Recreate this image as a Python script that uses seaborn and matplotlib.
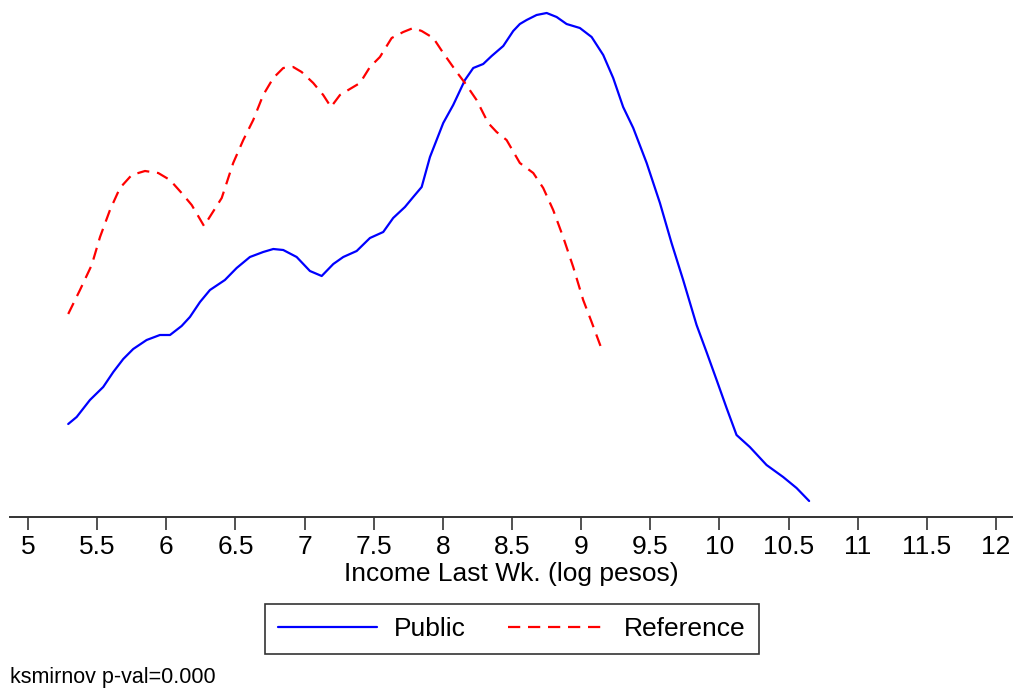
import numpy as np
import pandas as pd
import seaborn as sns
import matplotlib
matplotlib.use("Agg")
import matplotlib.pyplot as plt
from matplotlib.lines import Line2D

public_x = [5.291, 5.352, 5.448, 5.544, 5.617, 5.689, 5.761, 5.858, 5.954, 6.027,
            6.111, 6.171, 6.244, 6.316, 6.424, 6.509, 6.605, 6.701, 6.774, 6.846,
            6.943, 7.039, 7.124, 7.208, 7.280, 7.377, 7.473, 7.569, 7.641, 7.726,
            7.786, 7.847, 7.907, 8.003, 8.075, 8.160, 8.220, 8.292, 8.353, 8.437,
            8.509, 8.557, 8.606, 8.678, 8.751, 8.823, 8.895, 8.991, 9.076, 9.160,
            9.232, 9.304, 9.377, 9.474, 9.570, 9.654, 9.738, 9.835, 9.907, 9.980,
            10.052, 10.124, 10.220, 10.341, 10.461, 10.558, 10.649]
public_y = [0.093, 0.100, 0.117, 0.130, 0.145, 0.158, 0.168, 0.177, 0.182, 0.182,
            0.191, 0.200, 0.215, 0.227, 0.237, 0.249, 0.260, 0.265, 0.268, 0.267,
            0.260, 0.246, 0.241, 0.253, 0.260, 0.266, 0.279, 0.285, 0.299, 0.310,
            0.320, 0.330, 0.360, 0.394, 0.412, 0.437, 0.449, 0.453, 0.461, 0.471,
            0.486, 0.493, 0.497, 0.502, 0.504, 0.500, 0.493, 0.489, 0.480, 0.462,
            0.439, 0.410, 0.389, 0.354, 0.314, 0.274, 0.237, 0.192, 0.165, 0.137,
            0.109, 0.082, 0.070, 0.052, 0.040, 0.029, 0.016]

reference_x = [5.291, 5.376, 5.461, 5.521, 5.593, 5.665, 5.750, 5.846, 5.942, 6.027,
               6.111, 6.184, 6.273, 6.401, 6.484, 6.557, 6.629, 6.701, 6.774, 6.846,
               6.918, 6.979, 7.063, 7.135, 7.191, 7.256, 7.328, 7.401, 7.473, 7.545,
               7.630, 7.714, 7.786, 7.847, 7.931, 8.003, 8.100, 8.160, 8.244, 8.328,
               8.389, 8.461, 8.557, 8.654, 8.726, 8.798, 8.870, 8.943, 9.015, 9.076,
               9.143]
reference_y = [0.203, 0.227, 0.252, 0.280, 0.307, 0.329, 0.342, 0.346, 0.344, 0.337,
               0.324, 0.312, 0.291, 0.319, 0.354, 0.377, 0.397, 0.422, 0.439, 0.449,
               0.450, 0.445, 0.434, 0.422, 0.410, 0.422, 0.428, 0.434, 0.450, 0.460,
               0.479, 0.485, 0.489, 0.486, 0.479, 0.464, 0.445, 0.434, 0.417, 0.394,
               0.385, 0.377, 0.354, 0.344, 0.329, 0.307, 0.280, 0.250, 0.217, 0.195,
               0.170]

tick_values = [5, 5.5, 6, 6.5, 7, 7.5, 8, 8.5, 9, 9.5, 10, 10.5, 11, 11.5, 12]
tick_labels = ["5", "5.5", "6", "6.5", "7", "7.5", "8", "8.5", "9", "9.5",
               "10", "10.5", "11", "11.5", "12"]
series_names = ["Public", "Reference"]

sns.set_style("white")
plt.rcParams['font.family'] = ['Liberation Sans', 'DejaVu Sans']
plt.rcParams['text.color'] = 'black'
plt.rcParams['axes.labelcolor'] = 'black'
plt.rcParams['xtick.color'] = 'black'

fig = plt.figure(figsize=(10.16, 6.89), dpi=100)
ax = fig.add_axes([10/1016, 172/689, 1002/1016, 517/689])

df_pub = pd.DataFrame({"x": public_x, "y": public_y})
df_ref = pd.DataFrame({"x": reference_x, "y": reference_y})

sns.lineplot(data=df_pub, x="x", y="y", ax=ax, color="#0000ff", lw=1.6,
             sort=False, estimator=None)
sns.lineplot(data=df_ref, x="x", y="y", ax=ax, color="#ff0000", lw=1.6,
             sort=False, estimator=None)
ax.lines[1].set_dashes((5.5, 3.5))

ax.set_xlim(4.87, 12.116)
ax.set_ylim(0, 0.517)
ax.set_xticks(tick_values)
ax.set_xticklabels(tick_labels, fontsize=19)
ax.set_yticks([])
ax.set_xlabel("Income Last Wk. (log pesos)", fontsize=19, labelpad=2)
ax.set_ylabel("")
for s in ["top", "right", "left"]:
    ax.spines[s].set_visible(False)
ax.spines["bottom"].set_color("#333333")
ax.spines["bottom"].set_linewidth(1.4)
ax.tick_params(axis="x", direction="out", length=9, width=1.2, color="#333333",
               labelcolor="black", pad=4, bottom=True)

handles = [Line2D([], [], color="#0000ff", lw=1.6),
           Line2D([], [], color="#ff0000", lw=1.6, dashes=(5.5, 3.5))]
leg = fig.legend(handles, series_names, loc="center", bbox_to_anchor=(512/1016, 1 - 629/689),
                 ncol=2, fontsize=19, frameon=True, fancybox=False, edgecolor="black",
                 handlelength=3.75, columnspacing=1.6, borderpad=0.5, handletextpad=0.65)
leg.get_frame().set_linewidth(1.2)
for t in leg.get_texts():
    t.set_color("black")

fig.text(10/1016, 1 - 677/689, "ksmirnov p-val=0.000", fontsize=15.5, va="center",
         ha="left", color="black")

fig.savefig("out.png", dpi=100)
